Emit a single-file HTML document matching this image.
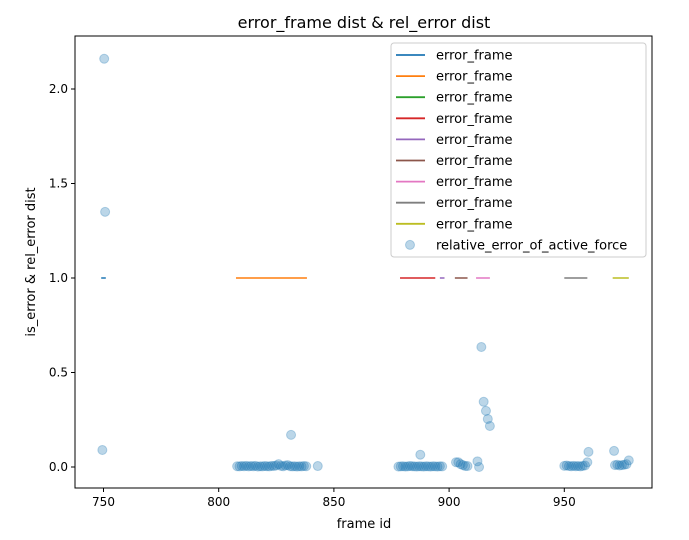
<!DOCTYPE html>
<html><head><meta charset="utf-8"><style>
body{margin:0;background:#fff;font-family:"Liberation Sans","DejaVu Sans",sans-serif;}
svg text{font-family:"DejaVu Sans","Liberation Sans",sans-serif;}
</style></head><body>
<svg id="c" width="689" height="535" xmlns="http://www.w3.org/2000/svg"></svg>
<script>
const segStarts=[749,807.5,878.7,896,902.5,911.7,950,971];
const segEnds=[751,838.3,894,898,908,917.7,960,978];
const segColors=["#1f77b4","#ff7f0e","#d62728","#9467bd","#8c564b","#e377c2","#7f7f7f","#bcbd22"];
const legendColors=["#1f77b4","#ff7f0e","#2ca02c","#d62728","#9467bd","#8c564b","#e377c2","#7f7f7f","#bcbd22"];
const ptX=[749.5,750.3,750.7,
808,809,810,811,812,813,814,815,816,817,818,819,820,821,822,823,824,825,826,827,828,829,830,831,831.4,832,833,834,835,836,837,838,843,
878,879,880,881,882,883,884,885,886,887,887.5,888,889,890,891,892,893,894,895,896,897,
903,904,905,906,907,908,912.3,913,914,915,916,916.8,917.7,
950,951,952,953,954,955,956,957,958,959,960,960.5,
971.6,972,973,974,975,976,977,978];
const ptY=[0.09,2.16,1.35,
0.004,0.003,0.005,0.004,0.006,0.003,0.005,0.004,0.006,0.002,0.004,0.003,0.005,0.004,0.003,0.006,0.005,0.008,0.015,0.006,0.004,0.008,0.01,0.004,0.17,0.003,0.004,0.002,0.004,0.003,0.005,0.004,0.005,
0.002,0.003,0.004,0.002,0.003,0.005,0.004,0.003,0.002,0.004,0.065,0.003,0.002,0.004,0.003,0.002,0.004,0.003,0.002,0.004,0.003,
0.025,0.025,0.015,0.01,0.005,0.005,0.03,0.0,0.635,0.345,0.297,0.254,0.217,
0.006,0.008,0.005,0.004,0.006,0.004,0.005,0.003,0.006,0.008,0.025,0.08,
0.085,0.01,0.012,0.008,0.01,0.012,0.015,0.035];
const xTicks=[750,800,850,900,950];
const yTicks=[0.0,0.5,1.0,1.5,2.0];
const L=75,R=652,T=36,B=488;
const X=v=>103.5+(v-750)*2.304;
const Y=v=>467-v*189;
const svg=document.getElementById('c');
const NS="http://www.w3.org/2000/svg";
function mk(tag,attrs,parent){const e=document.createElementNS(NS,tag);for(const k in attrs)e.setAttribute(k,attrs[k]);(parent||svg).appendChild(e);return e;}
segStarts.forEach((s,i)=>{const l=mk('line',{x1:X(s),x2:X(segEnds[i]),y1:Y(1),y2:Y(1),stroke:segColors[i],'stroke-width':1.5});

});
ptX.forEach((v,i)=>{const c=mk('circle',{cx:X(v),cy:Y(ptY[i]),r:4.5,fill:'#1f77b4','fill-opacity':0.3,stroke:'#1f77b4','stroke-opacity':0.3,'stroke-width':1});

});
const fr=mk('rect',{x:L,y:T,width:R-L,height:B-T,fill:'none',stroke:'#000','stroke-width':1});


xTicks.forEach(t=>{mk('line',{x1:X(t),x2:X(t),y1:B,y2:B+4,stroke:'#000'});
const tx=mk('text',{x:X(t),y:B+18,'text-anchor':'middle','font-size':12});tx.textContent=t;

});
yTicks.forEach(t=>{mk('line',{x1:L-4,x2:L,y1:Y(t),y2:Y(t),stroke:'#000'});
const tx=mk('text',{x:L-7,y:Y(t)+4,'text-anchor':'end','font-size':12});tx.textContent=t.toFixed(1);

});
</script>
<svg width="689" height="535" style="position:absolute;left:0;top:0" xmlns="http://www.w3.org/2000/svg">
<text x="364" y="28" text-anchor="middle" font-size="16">error_frame dist &amp; rel_error dist</text>
<text x="364" y="528" text-anchor="middle" font-size="13">frame id</text>
<text x="35" y="262" text-anchor="middle" font-size="13" transform="rotate(-90 35 262)">is_error &amp; rel_error dist</text>
<g id="lg">
<rect x="391" y="43" width="255" height="214" rx="3" fill="#fff" fill-opacity="0.8" stroke="#ccc"/>
</g>
</svg>
<script>
(function(){const g=document.getElementById('lg');const NS="http://www.w3.org/2000/svg";
legendColors.forEach((c,i)=>{const y=55+i*21.1;
const l=document.createElementNS(NS,'line');l.setAttribute('x1',396);l.setAttribute('x2',425);l.setAttribute('y1',y);l.setAttribute('y2',y);l.setAttribute('stroke',c);l.setAttribute('stroke-width',1.8);

g.appendChild(l);
const t=document.createElementNS(NS,'text');t.setAttribute('x',436);t.setAttribute('y',y+4.5);t.setAttribute('font-size',13);t.textContent='error_frame';

g.appendChild(t);});
const y=55+9*21.1;
const c=document.createElementNS(NS,'circle');c.setAttribute('cx',410);c.setAttribute('cy',y);c.setAttribute('r',4.5);c.setAttribute('fill','#1f77b4');c.setAttribute('fill-opacity',0.3);c.setAttribute('stroke','#1f77b4');c.setAttribute('stroke-opacity',0.3);

g.appendChild(c);
const t=document.createElementNS(NS,'text');t.setAttribute('x',436);t.setAttribute('y',y+4.5);t.setAttribute('font-size',13);t.textContent='relative_error_of_active_force';

g.appendChild(t);})();
</script>
</body></html>
